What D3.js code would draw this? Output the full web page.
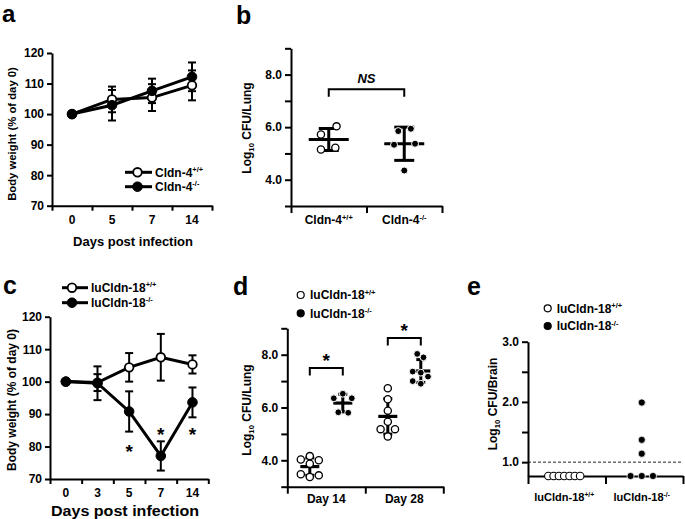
<!DOCTYPE html>
<html><head><meta charset="utf-8">
<script src="https://cdn.jsdelivr.net/npm/d3@7"></script>
<style>
body{margin:0;background:#fff}
svg{display:block;font-family:"Liberation Sans",Arial,sans-serif;font-weight:bold}
</style></head><body>
<svg id="fig" width="685" height="519"></svg>
<script>
// ---------------- DATA ----------------
// Panel a: body weight, Cldn-4
const daysA = ["0", "5", "7", "14"];
const aWtMean = [100, 104.8, 105.4, 109.4];
const aWtSd   = [0, 4.2, 4.4, 4.9];
const aKoMean = [100, 102.9, 107.6, 112.2];
const aKoSd   = [0, 5.0, 4.0, 4.7];
const yTicksWeight = [70, 80, 90, 100, 110, 120];

// Panel b: lung CFU, Cldn-4
const bGroups = ["Cldn-4|+/+", "Cldn-4|-/-"];
const bWt = [6.03, 5.72, 5.22, 5.15];
const bKo = [5.94, 5.85, 5.37, 5.33, 4.35];
const bWtSlot = [1.3, -1.3, 1.1, -1.3];
const bKoSlot = [1.1, -1.0, 1.8, -1.7, 0];
const yTicksCfu = [3, 4, 5, 6, 7, 8, 9];
const bBracket = 7.44;

// Panel c: body weight, luCldn-18
const daysC = ["0", "3", "5", "7", "14"];
const cWtMean = [100, 99.7, 104.4, 107.5, 105.3];
const cWtSd   = [0, 2.6, 4.4, 7.2, 2.8];
const cKoMean = [100, 99.5, 90.8, 77.1, 93.6];
const cKoSd   = [0, 5.2, 6.2, 4.5, 4.6];
const cStarDay = ["5", "7", "14"];
const cStarVal = [79.6, 84.9, 84.9];

// Panel d: lung CFU, luCldn-18
const dDays = ["Day 14", "Day 28"];
const d14Wt = [4.16, 4.03, 4.0, 3.87, 3.47, 3.43, 3.37];
const d14WtSlot = [0, -1, 1, 0, -1, 1, 0];
const d14Ko = [6.52, 6.35, 6.35, 5.82, 5.80];
const d14KoSlot = [0, -1, 1, -0.5, 0.6];
const d28Wt = [6.73, 6.31, 5.88, 5.46, 5.18, 5.18, 4.9];
const d28WtSlot = [0, 0, 0, 0, -0.8, 0.8, 0];
const d28Ko = [8.03, 7.9, 7.36, 7.32, 7.17, 7.0, 6.9];
const d28KoSlot = [-0.4, 0.3, -0.9, 0, 0.8, -0.9, 0];
const dBracket = [7.5, 8.63];

// Panel e: brain CFU, luCldn-18
const eGroups = ["luCldn-18|+/+", "luCldn-18|-/-"];
const eWt = [0.77, 0.77, 0.77, 0.77, 0.77, 0.77, 0.77];
const eWtSlot = [-3, -2, -1, 0, 1, 2, 3];
const eKo = [1.99, 1.37, 1.14, 0.77, 0.77, 0.77];
const eKoSlot = [0, 0, 0, -2, 0, 2];
const yTicksBrain = [1, 1.5, 2, 2.5, 3];
const eLimit = 1.0;

// ---------------- HELPERS ----------------
const svg = d3.select("#fig");
const FF = '"Liberation Sans", Arial, sans-serif';

function styleAxis(g, fs) {
  g.attr("font-family", null).attr("font-size", null);
  g.select(".domain").attr("stroke", "#000").attr("stroke-width", 2);
  g.selectAll(".tick line").attr("stroke", "#000").attr("stroke-width", 2);
  g.selectAll(".tick text").attr("fill", "#000").attr("font-size", fs || 12)
    .attr("font-weight", "bold").attr("font-family", FF);
  return g;
}

function rich(g, x, y, label, opt) {
  opt = opt || {};
  const fs = opt.size || 12;
  const [main, sup] = label.split("|");
  const t = g.append("text").attr("x", x).attr("y", y)
    .attr("text-anchor", opt.anchor || "start")
    .attr("font-size", fs).attr("font-weight", opt.weight || "bold").attr("fill", "#000");
  t.append("tspan").text(main);
  if (sup) t.append("tspan").attr("font-size", fs * 0.62).attr("dy", -fs * 0.38).text(sup);
  return t;
}

function yTitle(g, x, y, parts, fs) {
  const t = g.append("text").attr("transform", `translate(${x},${y}) rotate(-90)`)
    .attr("text-anchor", "middle").attr("dy", "0.35em")
    .attr("font-size", fs || 12).attr("font-weight", "bold").attr("fill", "#000");
  parts.forEach(p => {
    const s = t.append("tspan").text(p.t);
    if (p.sub) s.attr("font-size", (fs || 12) * 0.65).attr("dy", 3);
    if (p.after) s.attr("dy", -3);
  });
}

function panelLetter(x, y, ch, fs) {
  svg.append("text").attr("x", x).attr("y", y).attr("font-size", fs || 25)
    .attr("font-weight", "bold").attr("fill", "#000").text(ch);
}

function boundaryAxis(g, x0, x1, n, yPos, size) {
  const lin = d3.scaleLinear().domain([0, n]).range([x0, x1]);
  const ax = g.append("g").attr("transform", `translate(0,${yPos})`)
    .call(d3.axisBottom(lin).tickValues(d3.range(n + 1)).tickFormat("").tickSize(size).tickSizeOuter(0));
  styleAxis(ax);
}

function categoryLabels(g, x, yPos, pad, fs) {
  const ax = g.append("g").attr("transform", `translate(0,${yPos})`)
    .call(d3.axisBottom(x).tickSize(0).tickPadding(pad));
  ax.select(".domain").remove();
  styleAxis(ax, fs);
  return ax;
}

function marker(g, cx, cy, r, filled) {
  return g.append("circle").attr("cx", cx).attr("cy", cy).attr("r", r)
    .attr("fill", filled ? "#000" : "#fff").attr("stroke", "#000")
    .attr("stroke-width", filled ? 1 : 1.8);
}

function weightPanel(x, y, days, wtM, wtS, koM, koS) {
  const g = svg.append("g");
  const cx = d => x(d) + x.bandwidth() / 2;
  const errs = (m, s) => days.forEach((d, i) => {
    if (!s[i]) return;
    const xc = cx(d), y1 = y(m[i] + s[i]), y2 = y(m[i] - s[i]);
    g.append("line").attr("x1", xc).attr("x2", xc).attr("y1", y1).attr("y2", y2)
      .attr("stroke", "#000").attr("stroke-width", 2);
    [y1, y2].forEach(yy => g.append("line").attr("x1", xc - 4).attr("x2", xc + 4)
      .attr("y1", yy).attr("y2", yy).attr("stroke", "#000").attr("stroke-width", 2));
  });
  errs(wtM, wtS); errs(koM, koS);
  const line = d3.line();
  [wtM, koM].forEach(m => g.append("path")
    .datum(days.map((d, i) => [cx(d), y(m[i])])).attr("d", line)
    .attr("fill", "none").attr("stroke", "#000").attr("stroke-width", 3));
  days.forEach((d, i) => marker(g, cx(d), y(wtM[i]), 4.3, false));
  days.forEach((d, i) => marker(g, cx(d), y(koM[i]), 4.8, true));
  return g;
}

function scatterGroup(g, xc, y, vals, slots, unit, filled, meanW, capW, r) {
  const m = d3.mean(vals), sd = d3.deviation(vals);
  const y1 = y(m + sd), y2 = y(m - sd);
  g.append("line").attr("x1", xc).attr("x2", xc).attr("y1", y1).attr("y2", y2)
    .attr("stroke", "#000").attr("stroke-width", 3);
  [y1, y2].forEach(yy => g.append("line").attr("x1", xc - capW / 2).attr("x2", xc + capW / 2)
    .attr("y1", yy).attr("y2", yy).attr("stroke", "#000").attr("stroke-width", 3));
  g.append("line").attr("x1", xc - meanW / 2).attr("x2", xc + meanW / 2)
    .attr("y1", y(m)).attr("y2", y(m)).attr("stroke", "#000").attr("stroke-width", 3.2);
  vals.forEach((v, i) => {
    g.append("circle").attr("cx", xc + slots[i] * unit).attr("cy", y(v)).attr("r", r)
      .attr("fill", filled ? "#000" : "#fff").attr("stroke", filled ? "#fff" : "#000")
      .attr("stroke-width", filled ? 1 : 1.3);
  });
}

function bracket(g, x1, x2, yy, drop) {
  g.append("path").attr("d", `M${x1},${yy + drop}V${yy}H${x2}V${yy + drop}`)
    .attr("fill", "none").attr("stroke", "#000").attr("stroke-width", 2);
}

function star(g, x, y) {
  g.append("text").attr("x", x).attr("y", y).attr("text-anchor", "middle")
    .attr("font-size", 19).attr("font-weight", "bold").text("*");
}

// ---------------- PANEL A ----------------
{
  const g = svg.append("g");
  const x = d3.scaleBand().domain(daysA).range([52, 212]);
  const y = d3.scaleLinear().domain([70, 120]).range([205.7, 53]);
  const ya = g.append("g").attr("transform", "translate(52,0)")
    .call(d3.axisLeft(y).tickValues(yTicksWeight).tickSize(5).tickPadding(3).tickSizeOuter(0));
  styleAxis(ya);
  boundaryAxis(g, 52, 212, daysA.length, 205.7, 5);
  categoryLabels(g, x, 205.7, 10);
  weightPanel(x, y, daysA, aWtMean, aWtSd, aKoMean, aKoSd);
  yTitle(g, 12, 134, [{t: "Body weight (% of day 0)"}], 11.3);
  g.append("text").attr("x", 133).attr("y", 245.5).attr("text-anchor", "middle")
    .attr("font-size", 13).attr("font-weight", "bold").text("Days post infection");
  [["Cldn-4|+/+", false, 172.3], ["Cldn-4|-/-", true, 186.7]].forEach(([lab, f, yy]) => {
    g.append("line").attr("x1", 125).attr("x2", 152).attr("y1", yy).attr("y2", yy)
      .attr("stroke", "#000").attr("stroke-width", 3);
    marker(g, 137.5, yy, f ? 4.8 : 4.3, f);
    rich(g, 155, yy + 4.3, lab);
  });
  panelLetter(2, 22, "a", 24);
}

// ---------------- PANEL B ----------------
{
  const g = svg.append("g");
  const x = d3.scaleBand().domain(bGroups).range([291, 442]);
  const y = d3.scaleLinear().domain([3, 9]).range([206, 48.3]);
  const ya = g.append("g").attr("transform", "translate(291,0)")
    .call(d3.axisLeft(y).tickValues(yTicksCfu).tickSize(6).tickPadding(3).tickSizeOuter(0)
      .tickFormat(d => d % 2 === 0 ? d3.format(".1f")(d) : ""));
  styleAxis(ya);
  boundaryAxis(g, 291, 442, bGroups.length, 206, 7);
  bGroups.forEach(gr => rich(g, x(gr) + x.bandwidth() / 2, 224.3, gr, {anchor: "middle"}));
  const c0 = x(bGroups[0]) + x.bandwidth() / 2, c1 = x(bGroups[1]) + x.bandwidth() / 2;
  scatterGroup(g, c0, y, bWt, bWtSlot, 6, false, 40, 20, 3.6);
  scatterGroup(g, c1, y, bKo, bKoSlot, 6, true, 40, 20, 3.5);
  bracket(g, c0, c1, y(bBracket), 7.4);
  g.append("text").attr("x", (c0 + c1) / 2).attr("y", y(bBracket) - 6).attr("text-anchor", "middle")
    .attr("font-size", 13).attr("font-style", "italic").attr("font-weight", "bold").text("NS");
  yTitle(g, 247, 128, [{t: "Log"}, {t: "10", sub: true}, {t: " CFU/Lung", after: true}]);
  panelLetter(236, 24, "b");
}

// ---------------- PANEL C ----------------
{
  const g = svg.append("g");
  const x = d3.scaleBand().domain(daysC).range([50, 208.3]);
  const y = d3.scaleLinear().domain([70, 120]).range([479, 316.7]);
  const ya = g.append("g").attr("transform", "translate(50,0)")
    .call(d3.axisLeft(y).tickValues(yTicksWeight).tickSize(5).tickPadding(3).tickSizeOuter(0));
  styleAxis(ya);
  boundaryAxis(g, 50, 208.3, daysC.length, 479, 5);
  categoryLabels(g, x, 479, 9);
  weightPanel(x, y, daysC, cWtMean, cWtSd, cKoMean, cKoSd);
  cStarDay.forEach((d, i) => star(g, x(d) + x.bandwidth() / 2, y(cStarVal[i]) + 10.5));
  yTitle(g, 12, 400, [{t: "Body weight (% of day 0)"}]);
  g.append("text").attr("x", 125).attr("y", 516).attr("text-anchor", "middle")
    .attr("font-size", 14).attr("font-weight", "bold")
    .attr("textLength", 148).attr("lengthAdjust", "spacingAndGlyphs").text("Days post infection");
  [["luCldn-18|+/+", false, 287.7], ["luCldn-18|-/-", true, 302.7]].forEach(([lab, f, yy]) => {
    g.append("line").attr("x1", 62).attr("x2", 88).attr("y1", yy).attr("y2", yy)
      .attr("stroke", "#000").attr("stroke-width", 3);
    marker(g, 72, yy, f ? 4.8 : 4.3, f);
    rich(g, 91, yy + 4.3, lab);
  });
  panelLetter(3, 294, "c");
}

// ---------------- PANEL D ----------------
{
  const g = svg.append("g");
  const x = d3.scaleBand().domain(dDays).range([287.3, 443.3]);
  const y = d3.scaleLinear().domain([3, 9]).range([486.7, 328.3]);
  const ya = g.append("g").attr("transform", "translate(287.3,0)")
    .call(d3.axisLeft(y).tickValues(yTicksCfu).tickSize(6).tickPadding(3).tickSizeOuter(0)
      .tickFormat(d => d % 2 === 0 ? d3.format(".1f")(d) : ""));
  styleAxis(ya);
  boundaryAxis(g, 287.3, 443.3, dDays.length, 486.7, 7);
  categoryLabels(g, x, 486.7, 7.5);
  const cx = d => x(d) + x.bandwidth() / 2;
  const off = 16.5;
  const groups = [
    [dDays[0], -off, d14Wt, d14WtSlot, false],
    [dDays[0], off, d14Ko, d14KoSlot, true],
    [dDays[1], -off, d28Wt, d28WtSlot, false],
    [dDays[1], off, d28Ko, d28KoSlot, true]
  ];
  groups.forEach(([day, o, vals, slots, f]) =>
    scatterGroup(g, cx(day) + o, y, vals, slots, 9, f, 19, 9, f ? 3.4 : 3.6));
  dDays.forEach((d, i) => {
    bracket(g, cx(d) - off, cx(d) + off, y(dBracket[i]), 7.5);
    star(g, cx(d), y(dBracket[i]) - 1);
  });
  yTitle(g, 247, 410, [{t: "Log"}, {t: "10", sub: true}, {t: " CFU/Lung", after: true}]);
  [["luCldn-18|+/+", false, 295], ["luCldn-18|-/-", true, 313.3]].forEach(([lab, f, yy]) => {
    g.append("circle").attr("cx", 300.7).attr("cy", yy).attr("r", 3.5)
      .attr("fill", f ? "#000" : "#fff").attr("stroke", "#000").attr("stroke-width", 1.2);
    rich(g, 310, yy + 4.3, lab);
  });
  panelLetter(233, 295, "d");
}

// ---------------- PANEL E ----------------
{
  const g = svg.append("g");
  const x = d3.scaleBand().domain(eGroups).range([528, 683]);
  const y = d3.scaleLinear().domain([0.77, 3]).range([476, 341.7]);
  g.append("line").attr("x1", 528).attr("x2", 683).attr("y1", y(eLimit)).attr("y2", y(eLimit))
    .attr("stroke", "#222").attr("stroke-width", 1).attr("stroke-dasharray", "3,2");
  const ya = g.append("g").attr("transform", "translate(528,0)")
    .call(d3.axisLeft(y).tickValues(yTicksBrain).tickSize(6).tickPadding(3).tickSizeOuter(0)
      .tickFormat(d => Number.isInteger(d) ? d3.format(".1f")(d) : ""));
  styleAxis(ya);
  boundaryAxis(g, 528, 683, eGroups.length, 476, 8);
  eGroups.forEach(gr => rich(g, x(gr) + x.bandwidth() / 2 - 2.5, 501, gr, {anchor: "middle", size: 11}));
  const c0 = x(eGroups[0]) + x.bandwidth() / 2 - 2.5, c1 = x(eGroups[1]) + x.bandwidth() / 2 - 2.5;
  eWt.forEach((v, i) => g.append("circle").attr("cx", c0 + eWtSlot[i] * 5.3).attr("cy", y(v)).attr("r", 3.8)
    .attr("fill", "#fff").attr("stroke", "#000").attr("stroke-width", 1.1));
  eKo.forEach((v, i) => g.append("circle").attr("cx", c1 + eKoSlot[i] * 5.6).attr("cy", y(v)).attr("r", 3.6)
    .attr("fill", "#000").attr("stroke", "#fff").attr("stroke-width", 0.8));
  yTitle(g, 493, 404, [{t: "Log"}, {t: "10", sub: true}, {t: " CFU/Brain", after: true}]);
  [["luCldn-18|+/+", false, 308.3], ["luCldn-18|-/-", true, 326]].forEach(([lab, f, yy]) => {
    g.append("circle").attr("cx", 547.7).attr("cy", yy).attr("r", 3.5)
      .attr("fill", f ? "#000" : "#fff").attr("stroke", "#000").attr("stroke-width", 1.2);
    rich(g, 556.7, yy + 4.3, lab);
  });
  panelLetter(467, 295, "e");
}
</script>
</body></html>
